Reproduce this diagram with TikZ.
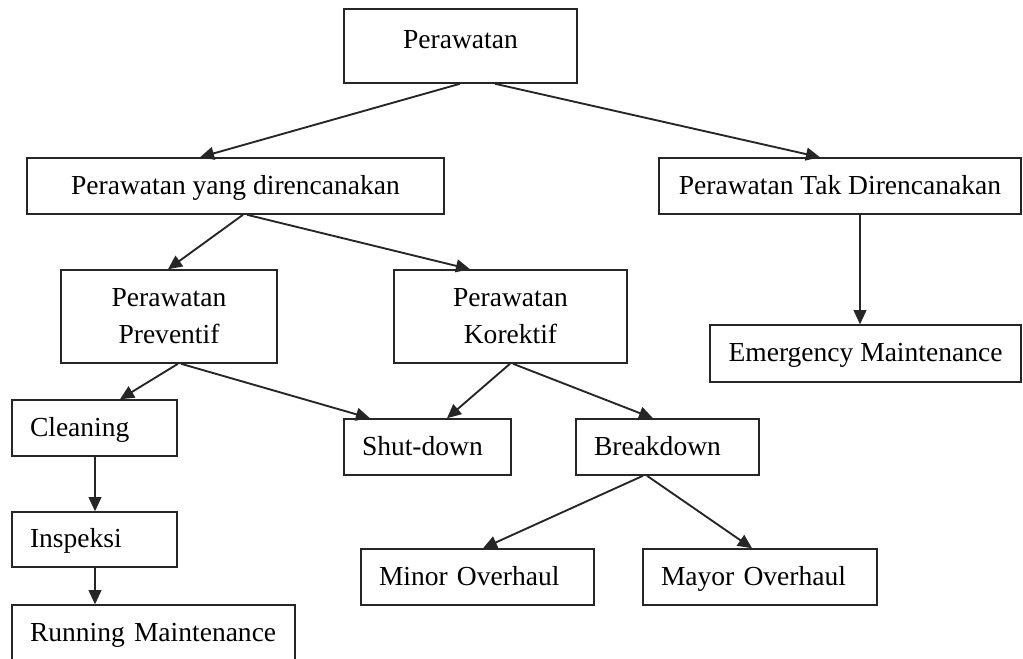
\documentclass[tikz,border=0pt]{standalone}
\usepackage{fontspec}
\setmainfont{Liberation Serif}
\usetikzlibrary{arrows.meta}
\newcommand{\pxu}{0.3mm}
\begin{document}
\begin{tikzpicture}[
        x=\pxu, y=-\pxu,
        box/.style={rectangle, draw=black!85, line width=1.3pt, inner sep=0pt,
            minimum height=56*\pxu, text height=18pt, text depth=4pt,
            font=\fontsize{23.5}{31.5}\selectfont, align=center},
        twoline/.style={box, minimum height=93*\pxu, text height=50pt},
        leaf/.style={box, align=left, inner xsep=18*\pxu},
        arrow/.style={-{Triangle[length=12pt, width=11pt]}, line width=1.6pt, draw=black!85},
        down/.style={arrow, line width=1pt}
    ]
    \useasboundingbox (0,0) rectangle (1023,658);
    \clip (0,0) rectangle (1023,658);
    \node[box, minimum width=233*\pxu, minimum height=74*\pxu, text height=14pt, text depth=10.4pt] (per) at (460.5,46) {Perawatan};
    \node[box, minimum width=417*\pxu] (yang) at (235.5,186) {Perawatan yang direncanakan};
    \node[box, minimum width=362*\pxu] (tak) at (840,186) {Perawatan Tak Direncanakan};
    \node[twoline, minimum width=216*\pxu] (prev) at (169,316.5) {Perawatan\\Preventif};
    \node[twoline, minimum width=233*\pxu] (kor) at (510.5,316.5) {Perawatan\\Korektif};
    \node[box, minimum width=311*\pxu, minimum height=57*\pxu] (emer) at (865.5,353.5) {Emergency Maintenance};
    \node[leaf, text width=129*\pxu] (clean) at (94.5,428) {Cleaning};
    \node[leaf, text width=131*\pxu] (shut) at (427.5,447) {Shut-down};
    \node[leaf, text width=147*\pxu] (brk) at (667.5,447) {Breakdown};
    \node[leaf, text width=129*\pxu, minimum height=55*\pxu] (insp) at (94.5,539.5) {Inspeksi};
    \node[leaf, text width=247*\pxu] (run) at (153.5,633) {\mbox{Running Maintenance}};
    \node[leaf, text width=197*\pxu] (minor) at (477.5,577) {\mbox{Minor Overhaul}};
    \node[leaf, text width=198*\pxu] (mayor) at (760,577) {\mbox{Mayor Overhaul}};
    \draw[arrow] (per.south -| 460,0) -- (yang.north -| 200,0);
    \draw[arrow] (per.south -| 495,0) -- (tak.north -| 820,0);
    \draw[arrow] (yang.south -| 243,0) -- (prev.north -| 168,0);
    \draw[arrow] (yang.south -| 247,0) -- (kor.north -| 470,0);
    \draw[down] (tak.south -| 860,0) -- (emer.north -| 860,0);
    \draw[arrow] (prev.south -| 178,0) -- (clean.north -| 120,0);
    \draw[arrow] (prev.south -| 181,0) -- (shut.north -| 370,0);
    \draw[arrow] (kor.south -| 510,0) -- (shut.north -| 447,0);
    \draw[arrow] (kor.south -| 513,0) -- (brk.north -| 653,0);
    \draw[down] (clean.south -| 95,0) -- (insp.north -| 95,0);
    \draw[down] (insp.south -| 95,0) -- (run.north -| 95,0);
    \draw[arrow] (brk.south -| 643,0) -- (minor.north -| 483,0);
    \draw[arrow] (brk.south -| 647,0) -- (mayor.north -| 752,0);
\end{tikzpicture}
\end{document}
